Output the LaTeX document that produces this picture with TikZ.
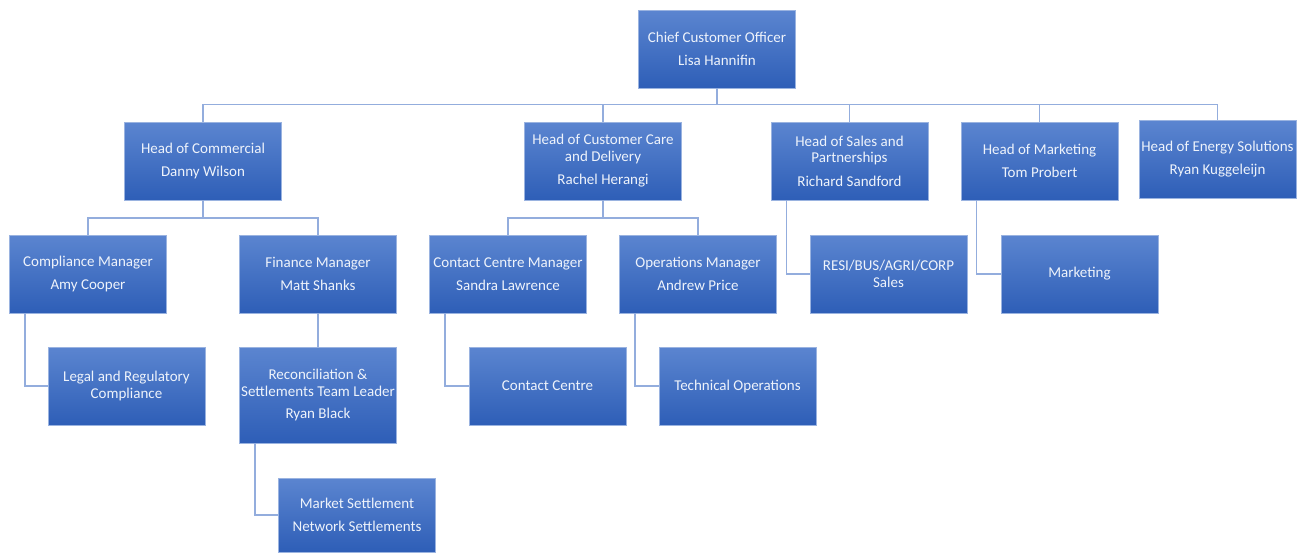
\documentclass[tikz,border=0pt]{standalone}
\usepackage{fontspec}
\setmainfont{Carlito}
\definecolor{boxtop}{HTML}{5B85D0}
\definecolor{boxbot}{HTML}{2E5EB7}
\definecolor{boxline}{HTML}{9AB3E0}
\definecolor{boxtext}{HTML}{EEF3FB}
\definecolor{linkc}{HTML}{93ADDD}
\tikzset{
  box/.style={draw=boxline, line width=0.8pt, top color=boxtop, bottom color=boxbot,
    text=boxtext, minimum width=157pt, minimum height=78pt, align=center, inner sep=1pt,
    font=\fontsize{15}{16.5}\selectfont},
  link/.style={draw=linkc, line width=1.3pt}
}
\begin{document}
\begin{tikzpicture}[x=1pt,y=-1pt]
\useasboundingbox (0,0) rectangle (1309,552);
% level 0
\node[box] (cco) at (717,49) {Chief Customer Officer\\[6.5pt]Lisa Hannifin};
% level 1
\node[box] (com) at (203,161) {Head of Commercial\\[6.5pt]Danny Wilson};
\node[box] (care) at (603,161) {Head of Customer Care\\and Delivery\\[7pt]Rachel Herangi};
\node[box] (sal) at (849.5,161) {Head of Sales and\\Partnerships\\[7pt]Richard Sandford};
\node[box] (mkt) at (1039.5,161) {Head of Marketing\\[6.5pt]Tom Probert};
\node[box] (ene) at (1217.5,159.5) {Head of Energy Solutions\\[6.5pt]Ryan Kuggeleijn};
% level 2
\node[box] (cmp) at (88,274) {Compliance Manager\\[6.5pt]Amy Cooper};
\node[box] (fin) at (318,274) {Finance Manager\\[6.5pt]Matt Shanks};
\node[box] (ccm) at (508,274) {Contact Centre Manager\\[6.5pt]Sandra Lawrence};
\node[box] (opm) at (698,274) {Operations Manager\\[6.5pt]Andrew Price};
\node[box] (resi) at (888.5,274) {RESI/BUS/AGRI/CORP\\Sales};
\node[box] (mktg) at (1079.5,274) {Marketing};
% level 3
\node[box] (legal) at (126.5,386) {Legal and Regulatory\\Compliance};
\node[box, minimum height=96pt] (rec) at (318,395) {Reconciliation \&\\Settlements Team Leader\\[5.5pt]Ryan Black};
\node[box] (cc) at (547.5,386) {Contact Centre};
\node[box] (tech) at (737.5,386) {Technical Operations};
% level 4
\node[box, minimum height=74pt] (mset) at (357,515) {Market Settlement\\[6.5pt]Network Settlements};
% buses
\coordinate (bus) at (0,104.5);
\coordinate (busb) at (0,218);
% connectors
\foreach \n in {com,care,sal,mkt,ene}
  \draw[link] (cco.south) -- (cco.south |- bus) -| (\n.north);
\foreach \n in {cmp,fin}
  \draw[link] (com.south) -- (com.south |- busb) -| (\n.north);
\foreach \n in {ccm,opm}
  \draw[link] (care.south) -- (care.south |- busb) -| (\n.north);
\draw[link] (fin.south) -- (rec.north);
\draw[link] ([xshift=16pt]sal.south west) |- (resi.west);
\draw[link] ([xshift=16pt]mkt.south west) |- (mktg.west);
\draw[link] ([xshift=16pt]cmp.south west) |- (legal.west);
\draw[link] ([xshift=16pt]ccm.south west) |- (cc.west);
\draw[link] ([xshift=16pt]opm.south west) |- (tech.west);
\draw[link] ([xshift=16pt]rec.south west) |- (mset.west);
\end{tikzpicture}
\end{document}
